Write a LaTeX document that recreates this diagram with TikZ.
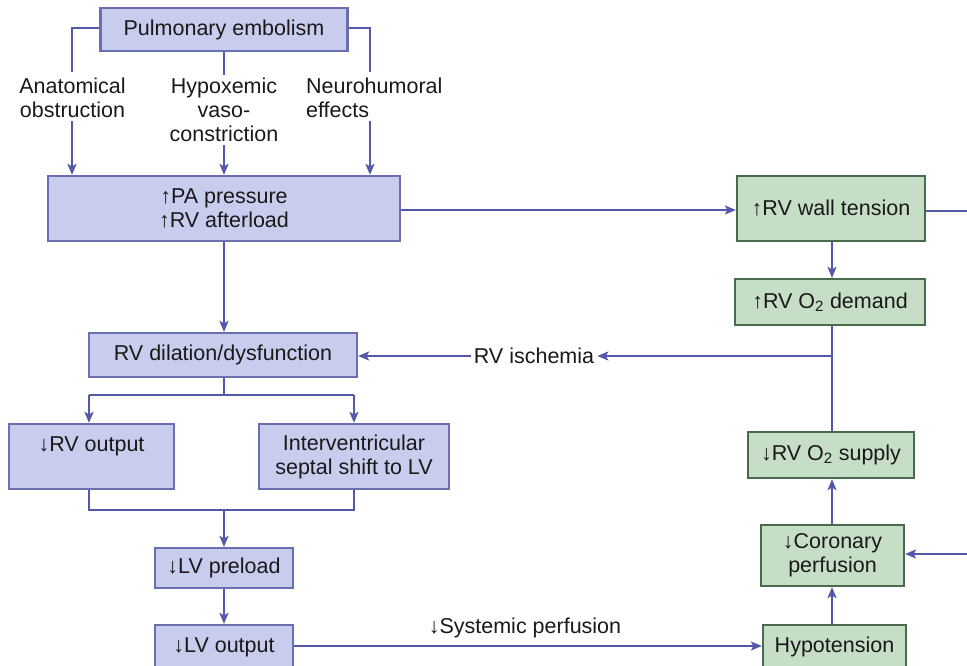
\documentclass[tikz,border=0pt]{standalone}
\usepackage{fontspec}
\setmainfont{Liberation Sans}
\usetikzlibrary{arrows.meta,calc}
\definecolor{bfill}{HTML}{C8CDEE}
\definecolor{bdraw}{HTML}{6A6FB0}
\definecolor{gfill}{HTML}{C6DEC6}
\definecolor{gdraw}{HTML}{4A6A4E}
\definecolor{lcol}{HTML}{5458A8}
\begin{document}
\begin{tikzpicture}[x=1pt,y=-1pt,
  every node/.style={font=\fontsize{21.5}{24}\selectfont, text=black!90},
  bbox/.style={draw=bdraw, fill=bfill, line width=2.2pt, inner sep=0pt, align=center},
  gbox/.style={draw=gdraw, fill=gfill, line width=2.2pt, inner sep=0pt, align=center},
  lab/.style={inner sep=3pt, align=center},
  conn/.style={draw=lcol, line width=2.4pt},
  arr/.style={conn, -{Stealth[length=11pt,width=9pt,inset=2.5pt]}}]
\useasboundingbox (0,0) rectangle (967,666);
\clip (0,0) rectangle (967,666);
% boxes
\node[bbox, minimum width=247, minimum height=43] (pe) at (224,29.5) {Pulmonary embolism};
\node[bbox, minimum width=352, minimum height=65] (pa) at (224,208.5) {↑PA pressure\\↑RV afterload};
\node[gbox, minimum width=188, minimum height=65] (wt) at (831,208.5) {↑RV wall tension};
\node[gbox, minimum width=190, minimum height=46] (dem) at (830,302) {↑RV O\textsubscript{2} demand};
\node[bbox, minimum width=268, minimum height=44] (dil) at (223,355) {RV dilation/dysfunction};
\node[bbox, minimum width=165, minimum height=65] (rvo) at (91.5,456.5) {↓RV output\\\mbox{}};
\node[bbox, minimum width=190, minimum height=65] (sep) at (354,456.5) {Interventricular\\septal shift to LV};
\node[bbox, minimum width=138, minimum height=40] (lvp) at (224,568) {↓LV preload};
\node[bbox, minimum width=138, minimum height=44] (lvo) at (224,647) {↓LV output};
\node[gbox, minimum width=143, minimum height=44] (hyp) at (834.5,647) {Hypotension};
\node[gbox, minimum width=143, minimum height=61] (cor) at (832.5,555.5) {↓Coronary\\perfusion};
\node[gbox, minimum width=166, minimum height=46] (sup) at (831,455) {↓RV O\textsubscript{2} supply};
% labels
\node[lab] (anat) at (72.5,98) {Anatomical\\obstruction};
\node[lab] (hypox) at (224,110) {Hypoxemic\\vaso-\\constriction};
\node[lab, align=left, anchor=west] (neuro) at (303,98) {Neurohumoral\\effects};
\node[lab] (isch) at (534,356) {RV ischemia};
\node[lab] (sys) at (525,628) {↓Systemic perfusion};
% coordinates
\coordinate (nx) at (370,72);
\coordinate (ax) at (72,72);
\coordinate (wtout) at (967,211);
\coordinate (corin) at (967,554);
\coordinate (br) at (832,356);
\coordinate (split) at (224,395);
\coordinate (join) at (224,510);
\coordinate (lx) at (89,395);
\coordinate (rx) at (354,395);
% connectors top
\draw[conn] (pe.west |- 0,28) -| (ax);
\draw[arr] (anat.south -| ax) -- (pa.north -| ax);
\draw[conn] (pe.south) -- (hypox.north);
\draw[arr] (hypox.south) -- (pa.north);
\draw[conn] (pe.east |- 0,28) -| (nx);
\draw[arr] (neuro.south -| nx) -- (pa.north -| nx);
% right chain
\draw[arr] (pa.east |- 0,210) -- (wt.west |- 0,210);
\draw[conn] (wt.east |- wtout) -- (wtout);
\draw[arr] (wt.south -| br) -- (dem.north -| br);
\draw[conn] (dem.south -| br) -- (sup.north -| br);
\draw[arr] (br) -- (isch.east);
\draw[arr] (isch.west) -- (dil.east |- isch.west);
% left chain
\draw[arr] (pa.south) -- (pa.south |- dil.north);
\draw[conn] (dil.south -| split) -- (split);
\draw[conn] (lx) -- (rx);
\draw[arr] (lx) -- (rvo.north -| lx);
\draw[arr] (rx) -- (sep.north -| rx);
\draw[conn] (rvo.south -| lx) |- (join) -| (sep.south -| rx);
\draw[arr] (join) -- (lvp.north);
\draw[arr] (lvp.south) -- (lvo.north);
\draw[arr] (lvo.east |- 0,646) -- (hyp.west |- 0,646);
% lower right
\draw[arr] (hyp.north -| br) -- (cor.south -| br);
\draw[arr] (cor.north -| br) -- (sup.south -| br);
\draw[arr] (corin) -- (cor.east |- corin);
\end{tikzpicture}
\end{document}
